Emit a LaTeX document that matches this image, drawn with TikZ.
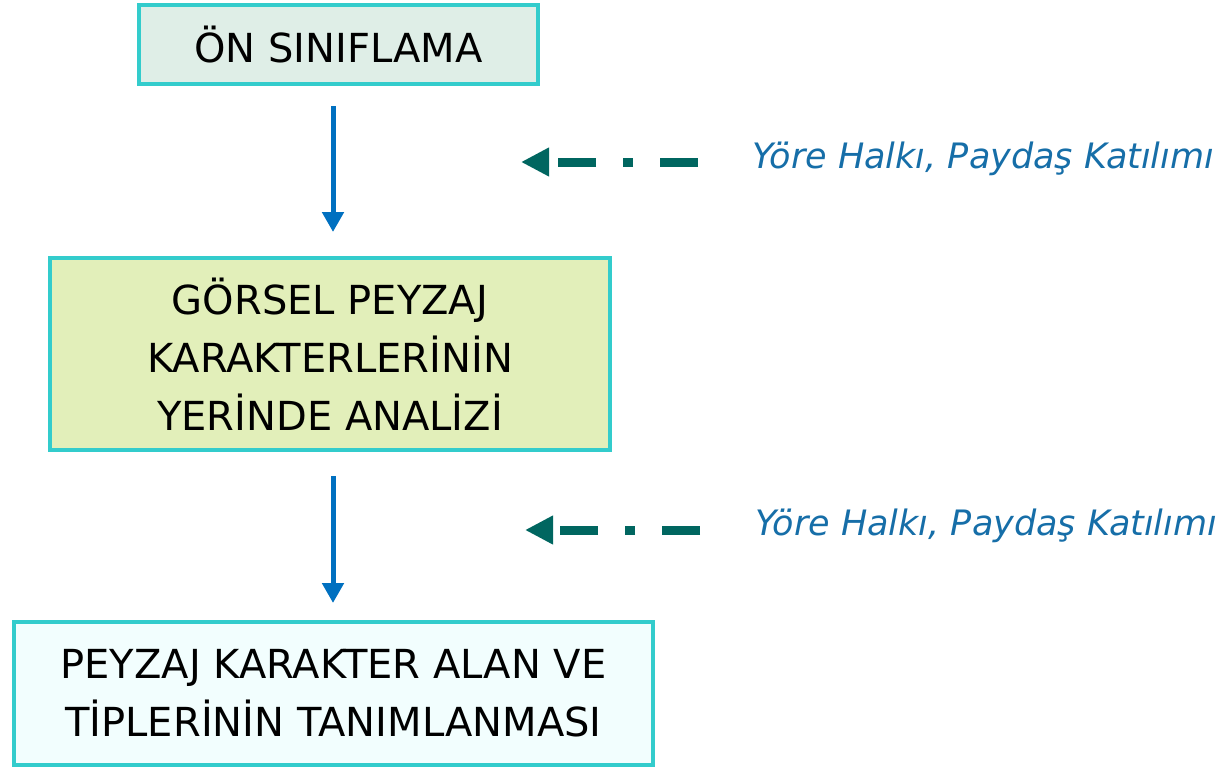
\documentclass[tikz,border=0pt]{standalone}
\usepackage{fontspec}
\setmainfont{DejaVu Sans}
\usetikzlibrary{arrows.meta}
\definecolor{bordercol}{HTML}{33CCCC}
\definecolor{fillone}{HTML}{DFEEE7}
\definecolor{filltwo}{HTML}{E2EFBA}
\definecolor{fillthree}{HTML}{F2FEFE}
\definecolor{flowblue}{HTML}{0070C0}
\definecolor{teal}{HTML}{006660}
\definecolor{labelblue}{HTML}{166EA8}
\tikzset{
  stepbox/.style={draw=bordercol, line width=4pt, inner sep=0pt, align=center,
    font=\fontsize{40}{58}\selectfont, text=black},
  flowarrow/.style={draw=flowblue, line width=5pt, -{Triangle[width=21pt,length=20pt]}},
  partarrow/.style={draw=teal, line width=9pt, dash pattern=on 38pt off 27pt on 10pt off 27pt,
    -{Triangle[width=27pt,length=28pt]}},
  partlabel/.style={inner sep=0pt, anchor=west, text=labelblue,
    font=\fontsize{35}{40}\selectfont\itshape}
}
\begin{document}
\begin{tikzpicture}[x=1pt,y=-1pt]
\useasboundingbox (0,0) rectangle (1227,769);
\node[stepbox, fill=fillone, minimum width=399pt, minimum height=79pt] (b1) at (338.5,44.5) {ÖN SINIFLAMA};
\node[stepbox, fill=filltwo, minimum width=560pt, minimum height=192pt] (b2) at (330,354) {GÖRSEL PEYZAJ\\KARAKTERLERİNİN\\YERİNDE ANALİZİ};
\node[stepbox, fill=fillthree, minimum width=639pt, minimum height=143pt] (b3) at (333.5,693.5) {PEYZAJ KARAKTER ALAN VE\\TİPLERİNİN TANIMLANMASI};
\coordinate (ax) at (333,0);
\draw[flowarrow] (ax |- b1.south) ++(0,20) coordinate (a1s) -- ([yshift=24pt]ax |- b2.north);
\draw[flowarrow] (ax |- b2.south) ++(0,24) coordinate (a2s) -- ([yshift=17pt]ax |- b3.north);
\node[partlabel] (l1) at (752,159) {Yöre Halkı, Paydaş Katılımı};
\node[partlabel] (l2) at (755,526) {Yöre Halkı, Paydaş Katılımı};
\coordinate (t1) at (521,162);
\coordinate (t2) at (525,530);
\draw[partarrow] ([xshift=-54pt]l1.west |- t1) -- (t1);
\draw[partarrow] ([xshift=-55pt]l2.west |- t2) -- (t2);
\end{tikzpicture}
\end{document}
